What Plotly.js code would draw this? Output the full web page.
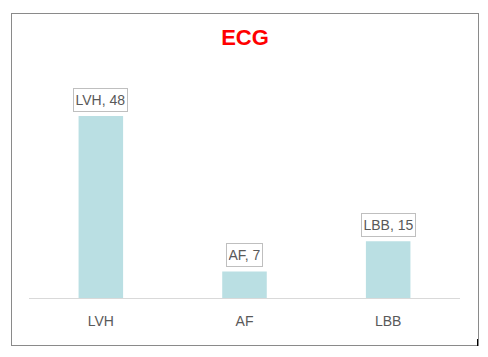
<!DOCTYPE html>
<html>
<head>
<meta charset="utf-8">
<script src="https://cdn.plot.ly/plotly-3.0.1.min.js"></script>
<style>
  html, body { margin: 0; padding: 0; background: #fff; width: 488px; height: 357px; overflow: hidden; }
  #frame { position: absolute; left: 11px; top: 13px; width: 466px; height: 331px; border: 1px solid #8a8a8a; }
  #chart { width: 466px; height: 331px; }
  #tick { position: absolute; left: 477px; top: 339px; width: 1px; height: 7px; background: #000; }
</style>
</head>
<body>
<div id="frame"><div id="chart"></div></div>
<div id="tick"></div>
<script>
const categories = ["LVH", "AF", "LBB"];
const values = [48, 7, 15];
const chartTitle = "ECG";

const labels = categories.map((c, i) => c + ", " + values[i]);

const trace = {
  type: "bar",
  x: categories,
  y: values,
  width: 0.31,
  marker: { color: "#badfe3" },
  hoverinfo: "none"
};

const annotations = categories.map((c, i) => ({
  x: c, y: values[i], xref: "x", yref: "y",
  text: labels[i], showarrow: false,
  yanchor: "bottom", yshift: 4, height: 19,
  bgcolor: "#ffffff", bordercolor: "#bfbfbf", borderwidth: 1, borderpad: 1.5,
  font: { family: "Liberation Sans, Arial, sans-serif", size: 14, color: "#595959" }
}));

const layout = {
  width: 466, height: 331,
  margin: { l: 17, r: 18, t: 46, b: 47 },
  paper_bgcolor: "#ffffff", plot_bgcolor: "#ffffff",
  showlegend: false,
  title: {
    text: "<b>" + chartTitle + "</b>",
    x: 0.5, xanchor: "center", y: 0.929, yanchor: "middle", yref: "container",
    font: { family: "Liberation Sans, Arial, sans-serif", size: 22, color: "#ff0000" }
  },
  xaxis: {
    type: "category", range: [-0.5, 2.5],
    showgrid: false, zeroline: false, showline: true, linecolor: "#d9d9d9", linewidth: 1,
    ticks: "", ticklabelstandoff: 10,
    tickfont: { family: "Liberation Sans, Arial, sans-serif", size: 14, color: "#595959" }
  },
  yaxis: {
    range: [0, 62.77], visible: false, showgrid: false, zeroline: false
  },
  annotations: annotations
};

Plotly.newPlot("chart", [trace], layout, { displayModeBar: false, staticPlot: true });
</script>
</body>
</html>
